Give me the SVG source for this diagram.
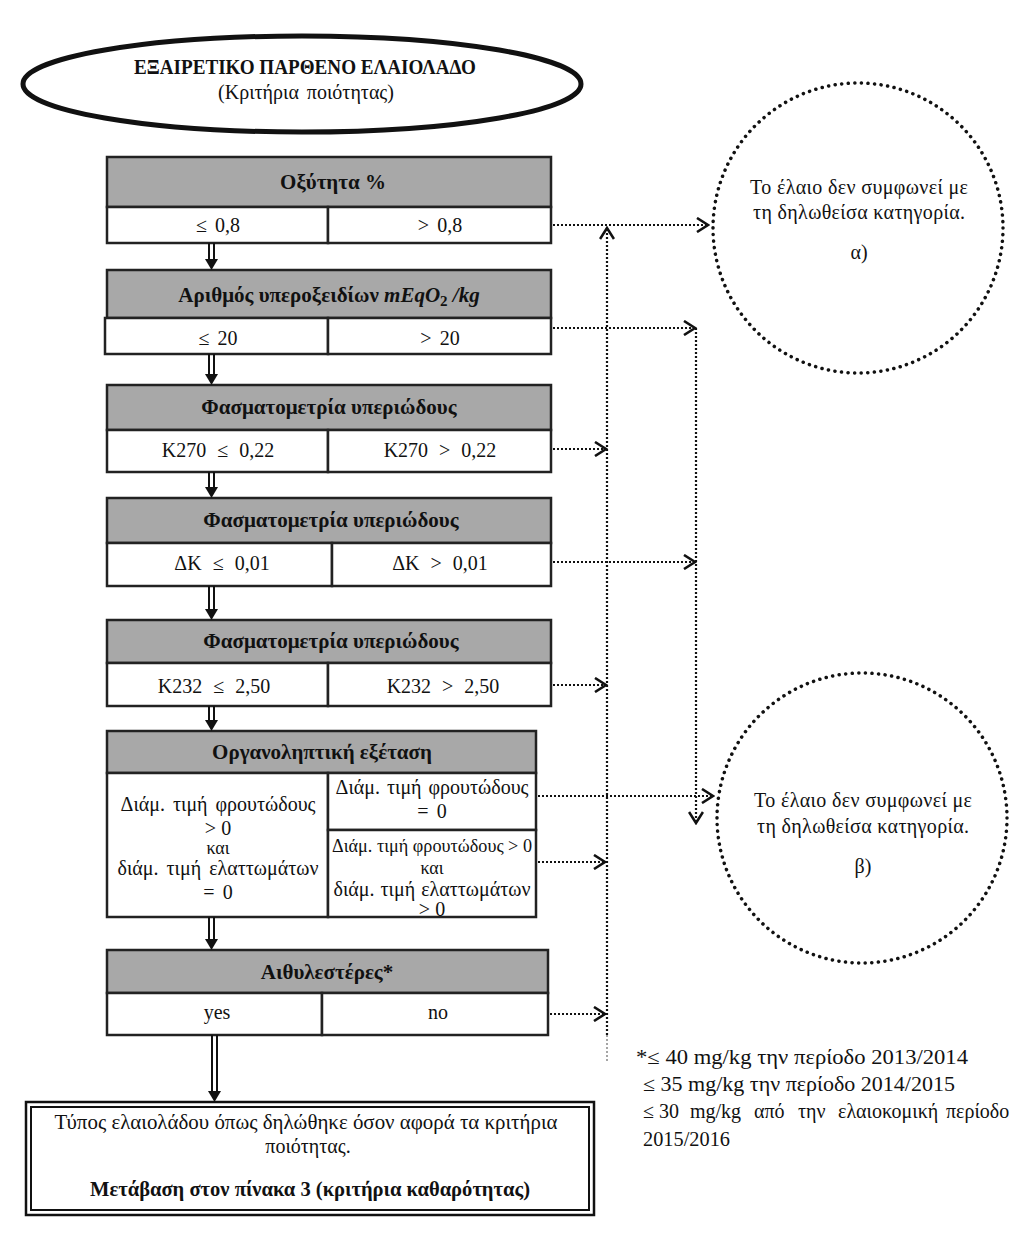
<svg xmlns="http://www.w3.org/2000/svg" width="1024" height="1256" viewBox="0 0 1024 1256">
<defs>
<style>
text{font-family:"Liberation Serif","DejaVu Serif",serif;font-size:20px;fill:#111;}
.b{font-weight:bold;}
.h{font-weight:bold;font-size:21px;}
.m{text-anchor:middle;}
.hd{fill:#a8a8a8;stroke:#222;stroke-width:2.5;}
.cell{fill:#fff;stroke:#222;stroke-width:2.5;}
.dot{fill:none;stroke:#111;stroke-width:2.2;stroke-dasharray:2 2;}
.dl{stroke:#111;stroke-width:2;}
.circ{fill:none;stroke:#111;stroke-width:3.5;stroke-dasharray:0.1 6.5;stroke-linecap:round;}
.ws{word-spacing:3px;}
</style>
<marker id="chev" markerWidth="14" markerHeight="16" refX="12" refY="8" orient="auto" markerUnits="userSpaceOnUse">
<path d="M1,1 L12,8 L1,15" fill="none" stroke="#111" stroke-width="2.6" stroke-dasharray="none"/>
</marker>
</defs>
<rect width="1024" height="1256" fill="#fff"/>

<g id="title">
<ellipse cx="302" cy="84" rx="279" ry="48" fill="#fff" stroke="#111" stroke-width="5"/>
<text class="b m" x="305" y="74" textLength="342" lengthAdjust="spacingAndGlyphs">ΕΞΑΙΡΕΤΙΚΟ ΠΑΡΘΕΝΟ ΕΛΑΙΟΛΑΔΟ</text>
<text class="m ws" x="306" y="99">(Κριτήρια ποιότητας)</text>
</g>

<g id="box1">
<rect class="hd" x="107" y="157" width="444" height="50"/>
<rect class="cell" x="107" y="207" width="221" height="36"/>
<rect class="cell" x="328" y="207" width="223" height="36"/>
<text class="h m" x="333" y="189">Οξύτητα %</text>
<text class="m ws" x="218" y="232">≤ 0,8</text>
<text class="m ws" x="440" y="232">&gt; 0,8</text>
</g>

<g id="box2">
<rect class="hd" x="107" y="270" width="444" height="48"/>
<rect class="cell" x="105" y="318" width="223" height="36"/>
<rect class="cell" x="328" y="318" width="223" height="36"/>
<text class="h m" x="329" y="302">Αριθμός υπεροξειδίων <tspan font-style="italic">mEqO</tspan><tspan font-size="15" dy="4">2</tspan><tspan dy="-4" font-style="italic"> /kg</tspan></text>
<text class="m ws" x="218" y="345">≤ 20</text>
<text class="m ws" x="440" y="345">&gt; 20</text>
</g>

<g id="box3">
<rect class="hd" x="107" y="385" width="444" height="45"/>
<rect class="cell" x="107" y="430" width="221" height="42"/>
<rect class="cell" x="328" y="430" width="223" height="42"/>
<text class="h m" x="329" y="414">Φασματομετρία υπεριώδους</text>
<text class="m" x="218" y="457" style="word-spacing:6px">K270 ≤ 0,22</text>
<text class="m" x="440" y="457" style="word-spacing:6px">K270 &gt; 0,22</text>
</g>

<g id="box4">
<rect class="hd" x="107" y="498" width="444" height="45"/>
<rect class="cell" x="107" y="543" width="225" height="43"/>
<rect class="cell" x="332" y="543" width="219" height="43"/>
<text class="h m" x="331" y="527">Φασματομετρία υπεριώδους</text>
<text class="m" x="222" y="570" style="word-spacing:6px">ΔK ≤ 0,01</text>
<text class="m" x="440" y="570" style="word-spacing:6px">ΔK &gt; 0,01</text>
</g>

<g id="box5">
<rect class="hd" x="107" y="620" width="444" height="43"/>
<rect class="cell" x="107" y="663" width="221" height="43"/>
<rect class="cell" x="328" y="663" width="223" height="43"/>
<text class="h m" x="331" y="648">Φασματομετρία υπεριώδους</text>
<text class="m" x="214" y="693" style="word-spacing:6px">K232 ≤ 2,50</text>
<text class="m" x="443" y="693" style="word-spacing:6px">K232 &gt; 2,50</text>
</g>

<g id="box6">
<rect class="hd" x="107" y="731" width="429" height="42"/>
<rect class="cell" x="107" y="773" width="221" height="144"/>
<rect class="cell" x="328" y="773" width="208" height="57"/>
<rect class="cell" x="328" y="830" width="208" height="87"/>
<text class="h m" x="322" y="759">Οργανοληπτική εξέταση</text>
<text class="m ws" x="218" y="811">Διάμ. τιμή φρουτώδους</text>
<text class="m" x="218" y="835">&gt; 0</text>
<text class="m" x="218" y="854" style="font-size:18px">και</text>
<text class="m ws" x="218" y="875">διάμ. τιμή ελαττωμάτων</text>
<text class="m ws" x="218" y="899">= 0</text>
<text class="m" x="432" y="794" style="word-spacing:2px">Διάμ. τιμή φρουτώδους</text>
<text class="m ws" x="432" y="818">= 0</text>
<text class="m" x="432" y="852" style="font-size:18px" textLength="200" lengthAdjust="spacingAndGlyphs">Διάμ. τιμή φρουτώδους &gt; 0</text>
<text class="m" x="432" y="874" style="font-size:18px">και</text>
<text class="m" x="432" y="896" style="word-spacing:1px">διάμ. τιμή ελαττωμάτων</text>
<text class="m" x="432" y="916">&gt; 0</text>
</g>

<g id="box7">
<rect class="hd" x="107" y="950" width="441" height="43"/>
<rect class="cell" x="107" y="993" width="215" height="42"/>
<rect class="cell" x="322" y="993" width="226" height="42"/>
<text class="h m" x="327" y="979">Αιθυλεστέρες*</text>
<text class="m" x="217" y="1019">yes</text>
<text class="m" x="438" y="1019">no</text>
</g>

<g id="box8">
<rect x="26" y="1102" width="568" height="113" fill="#fff" stroke="#111" stroke-width="2.5"/>
<rect x="31" y="1107" width="558" height="103" fill="none" stroke="#111" stroke-width="2"/>
<text class="m" x="306" y="1129" textLength="503" lengthAdjust="spacingAndGlyphs">Τύπος ελαιολάδου όπως δηλώθηκε όσον αφορά τα κριτήρια</text>
<text class="m" x="308" y="1153">ποιότητας.</text>
<text class="b m" x="310" y="1196" textLength="440" lengthAdjust="spacingAndGlyphs">Μετάβαση στον πίνακα 3 (κριτήρια καθαρότητας)</text>
</g>

<g id="circle-a">
<circle class="circ" cx="858" cy="228" r="145"/>
<text class="m" x="859" y="194" textLength="218" lengthAdjust="spacing">Το έλαιο δεν συμφωνεί με</text>
<text class="m" x="859" y="219" textLength="212" lengthAdjust="spacing">τη δηλωθείσα κατηγορία.</text>
<text class="m" x="859" y="259">α)</text>
</g>

<g id="circle-b">
<circle class="circ" cx="862" cy="818" r="145"/>
<text class="m" x="863" y="807" textLength="218" lengthAdjust="spacing">Το έλαιο δεν συμφωνεί με</text>
<text class="m" x="863" y="833" textLength="212" lengthAdjust="spacing">τη δηλωθείσα κατηγορία.</text>
<text class="m" x="863" y="873">β)</text>
</g>

<g id="footnote">
<text x="636" y="1064" textLength="332" lengthAdjust="spacingAndGlyphs">*≤ 40 mg/kg την περίοδο 2013/2014</text>
<text x="643" y="1091" textLength="312" lengthAdjust="spacingAndGlyphs">≤ 35 mg/kg την περίοδο 2014/2015</text>
<text y="1118"><tspan x="643">≤ 30</tspan><tspan x="690">mg/kg</tspan><tspan x="754">από</tspan><tspan x="798">την</tspan><tspan x="838">ελαιοκομική</tspan><tspan x="946">περίοδο</tspan></text>
<text x="643" y="1146" textLength="87" lengthAdjust="spacingAndGlyphs">2015/2016</text>
</g>

<g id="connectors">
<g id="down-arrows">
<line class="dl" x1="209" y1="243" x2="209" y2="262"/><line class="dl" x1="214" y1="243" x2="214" y2="262"/><polygon points="205,259 218,259 211.5,270" fill="#111"/>
<line class="dl" x1="209" y1="354" x2="209" y2="377"/><line class="dl" x1="214" y1="354" x2="214" y2="377"/><polygon points="205,374 218,374 211.5,385" fill="#111"/>
<line class="dl" x1="209" y1="472" x2="209" y2="490"/><line class="dl" x1="214" y1="472" x2="214" y2="490"/><polygon points="205,487 218,487 211.5,498" fill="#111"/>
<line class="dl" x1="209" y1="586" x2="209" y2="612"/><line class="dl" x1="214" y1="586" x2="214" y2="612"/><polygon points="205,609 218,609 211.5,620" fill="#111"/>
<line class="dl" x1="209" y1="706" x2="209" y2="723"/><line class="dl" x1="214" y1="706" x2="214" y2="723"/><polygon points="205,720 218,720 211.5,731" fill="#111"/>
<line class="dl" x1="209" y1="917" x2="209" y2="942"/><line class="dl" x1="214" y1="917" x2="214" y2="942"/><polygon points="205,939 218,939 211.5,950" fill="#111"/>
<line class="dl" x1="212" y1="1035" x2="212" y2="1094"/><line class="dl" x1="217" y1="1035" x2="217" y2="1094"/><polygon points="208,1091 221,1091 214.5,1102" fill="#111"/>
</g>
<g id="dotted">
<line class="dot" x1="553" y1="225" x2="708" y2="225" marker-end="url(#chev)"/>
<line class="dot" x1="607" y1="1035" x2="607" y2="228" marker-end="url(#chev)"/>
<line class="dot" x1="607" y1="1035" x2="607" y2="1062" style="stroke:#888;stroke-width:1.5"/>
<line class="dot" x1="553" y1="328" x2="695" y2="328" marker-end="url(#chev)"/>
<line class="dot" x1="696" y1="328" x2="696" y2="823" marker-end="url(#chev)"/>
<line class="dot" x1="553" y1="449" x2="606" y2="449" marker-end="url(#chev)"/>
<line class="dot" x1="553" y1="562" x2="695" y2="562" marker-end="url(#chev)"/>
<line class="dot" x1="553" y1="685" x2="606" y2="685" marker-end="url(#chev)"/>
<line class="dot" x1="538" y1="796" x2="713" y2="796" marker-end="url(#chev)"/>
<line class="dot" x1="538" y1="862" x2="605" y2="862" marker-end="url(#chev)"/>
<line class="dot" x1="550" y1="1014" x2="605" y2="1014" marker-end="url(#chev)"/>
</g>
</g>
</svg>
